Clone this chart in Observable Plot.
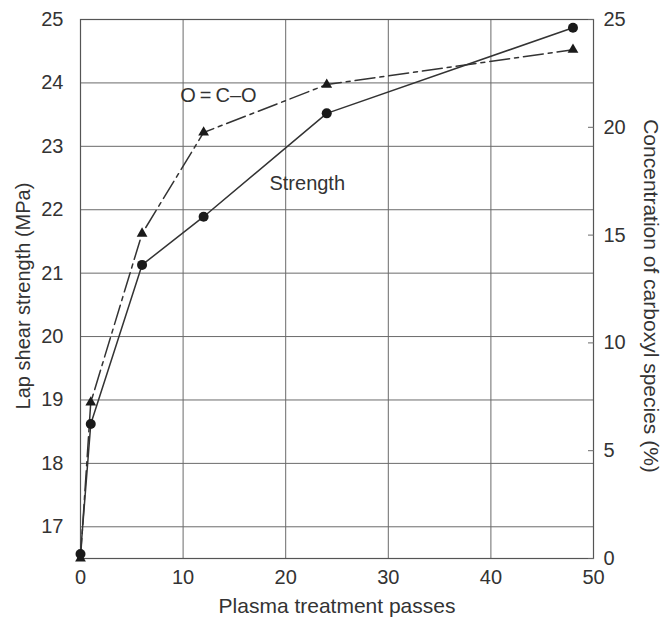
<!DOCTYPE html>
<html>
<head>
<meta charset="utf-8">
<script src="https://cdn.jsdelivr.net/npm/d3@7"></script>
<script src="https://cdn.jsdelivr.net/npm/@observablehq/plot@0.6"></script>
<style>
  html, body { margin: 0; padding: 0; background: #fff; }
  #chart svg { display: block; font-family: "Liberation Sans", Arial, sans-serif; }
</style>
</head>
<body>
<div id="chart"></div>
<script>
// Data
const passes = [0, 1, 6, 12, 24, 48];
const strength = [16.57, 18.62, 21.13, 21.89, 23.52, 24.87];   // MPa, left axis
const carboxyl = [0, 7.24, 15.07, 19.76, 21.98, 23.6];          // %, right axis
const leftTicks = [17, 18, 19, 20, 21, 22, 23, 24, 25];
const rightTicks = [0, 5, 10, 15, 20, 25];
const xTicks = [0, 10, 20, 30, 40, 50];
const labelNames = ["O\u2009=\u2009C–O", "Strength"];
const labelX = [13.45, 22.1];
const labelY = [23.8, 22.41];

const leftDomain = [16.5, 25];
const rightDomain = [0, 25];
// map right-axis values into the left (plot) y scale
const toLeft = d3.scaleLinear().domain(rightDomain).range(leftDomain);

const strengthData = passes.map((p, i) => ({x: p, y: strength[i]}));
const carboxylData = passes.map((p, i) => ({x: p, y: toLeft(carboxyl[i])}));
const labels = labelNames.map((t, i) => ({text: t, x: labelX[i], y: labelY[i]}));

const ink = "#333";
const grid = "#6a6a6a";

const chart = Plot.plot({
  width: 665,
  height: 621,
  marginLeft: 80,
  marginRight: 72,
  marginTop: 19,
  marginBottom: 63,
  style: {fontFamily: "'Liberation Sans', Arial, sans-serif", fontSize: "20px", color: ink, background: "#fff"},
  x: {domain: [0, 50]},
  y: {domain: leftDomain},
  marks: [
    Plot.gridY([17, 18, 19, 20, 21, 22, 23, 24], {stroke: grid, strokeOpacity: 1, strokeWidth: 1}),
    Plot.gridX([10, 20, 30, 40], {stroke: grid, strokeOpacity: 1, strokeWidth: 1}),
    Plot.frame({stroke: "#555", strokeWidth: 1.2}),
    Plot.axisX(xTicks, {tickSize: 0, tickPadding: 11, fontSize: 20, label: null, color: ink}),
    Plot.axisY(leftTicks, {anchor: "left", tickSize: 0, tickPadding: 17, fontSize: 20, label: null, color: ink, tickFormat: d3.format("d")}),
    Plot.axisY(rightTicks.map(v => toLeft(v)), {
      anchor: "right", tickSize: -6, tickPadding: 16, fontSize: 20, label: null, color: ink,
      stroke: grid, tickFormat: d => d3.format("d")(Math.round(toLeft.invert(d)))
    }),
    Plot.text(["Lap shear strength (MPa)"], {frameAnchor: "left", textAnchor: "middle", dx: -57, dy: 7, rotate: -90, fontSize: 20, fill: ink}),
    Plot.text(["Concentration of carboxyl species (%)"], {frameAnchor: "right", textAnchor: "middle", dx: 57, dy: 7, rotate: 90, fontSize: 21, fill: ink}),
    Plot.text(["Plasma treatment passes"], {frameAnchor: "bottom", dy: 54, fontSize: 21, fill: ink}),
    Plot.line(carboxylData, {x: "x", y: "y", stroke: ink, strokeWidth: 1.5, strokeDasharray: "20,5,4,5"}),
    Plot.line(strengthData, {x: "x", y: "y", stroke: ink, strokeWidth: 1.5}),
    Plot.dot(carboxylData, {x: "x", y: "y", symbol: "triangle", r: 4, fill: "#1a1a1a", stroke: "none"}),
    Plot.dot(strengthData, {x: "x", y: "y", symbol: "circle", r: 5, fill: "#1a1a1a", stroke: "none"}),
    Plot.text(labels, {x: "x", y: "y", text: "text", fontSize: 20, fill: ink})
  ]
});
document.getElementById("chart").appendChild(chart);
</script>
</body>
</html>
